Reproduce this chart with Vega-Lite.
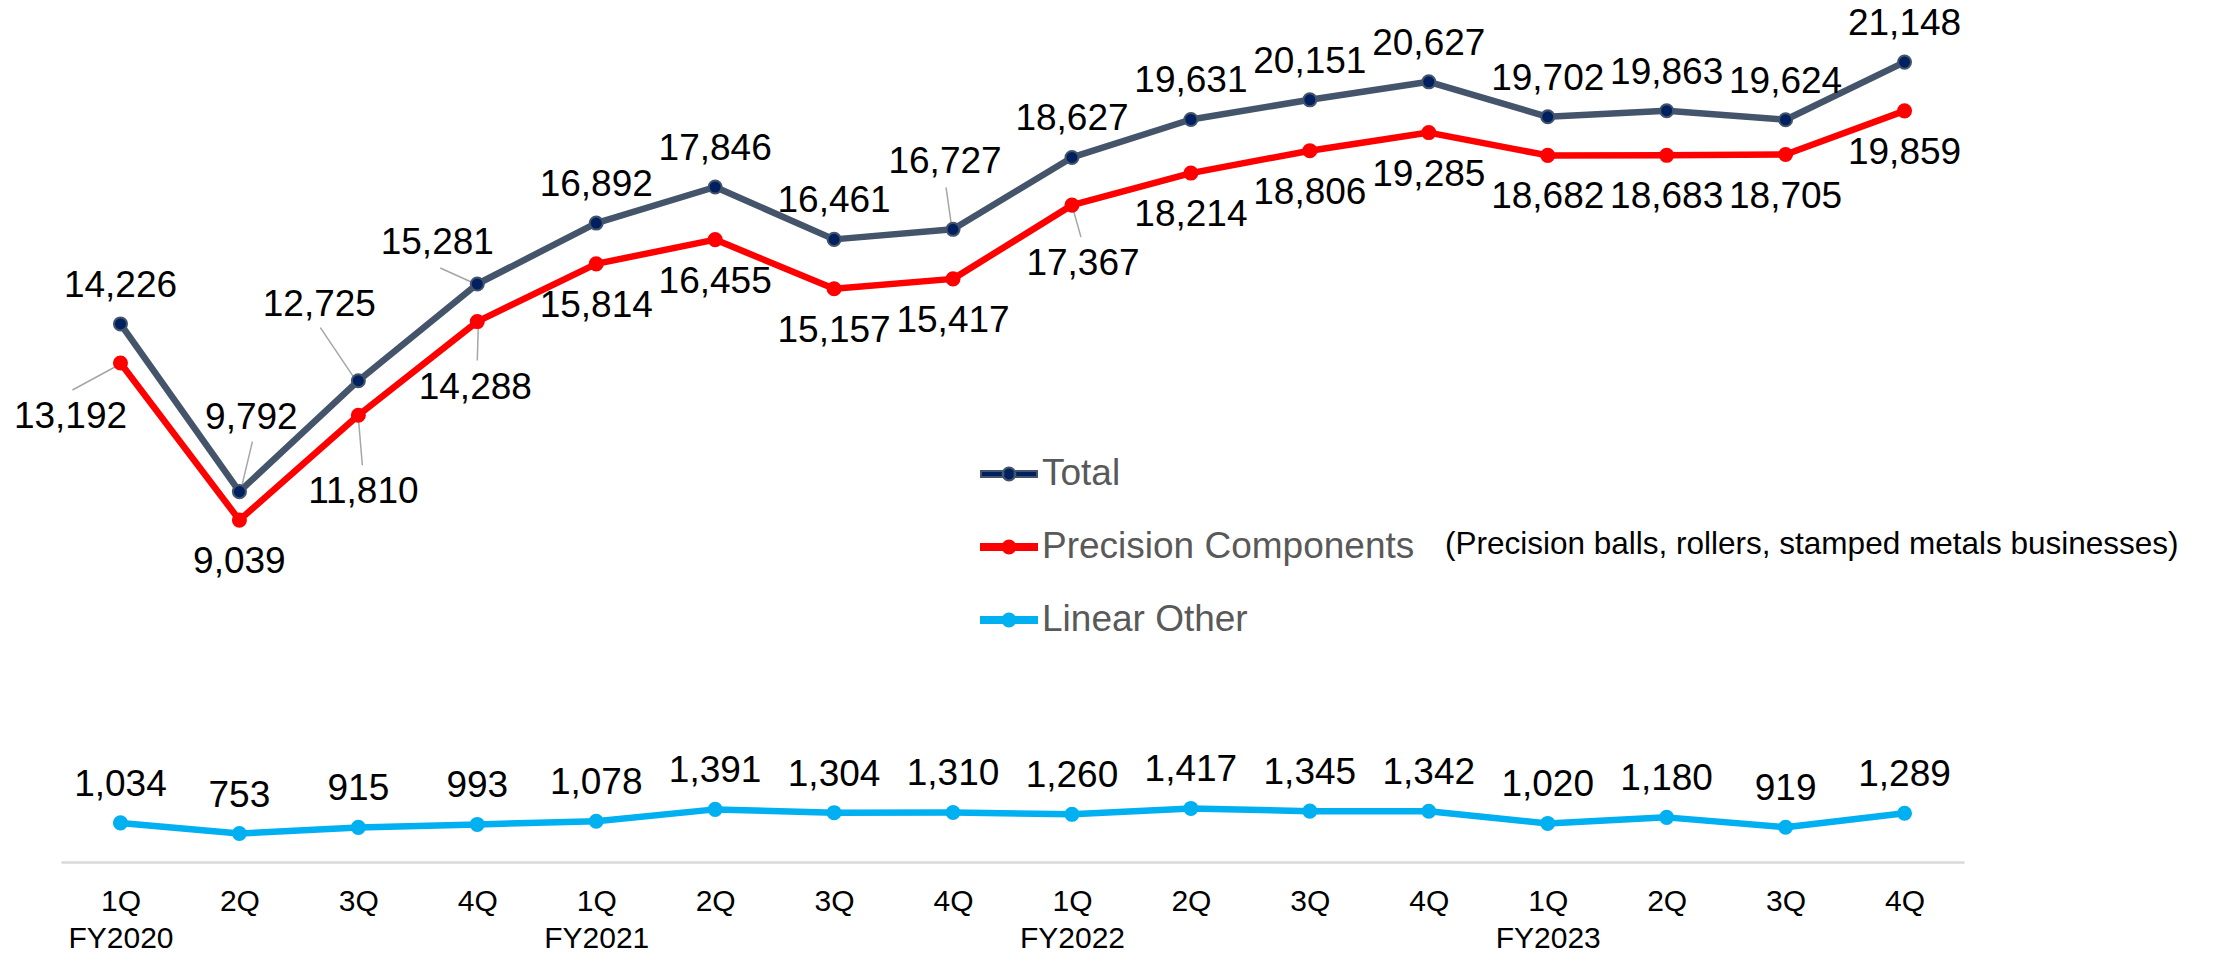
{
  "$schema": "https://vega.github.io/schema/vega-lite/v6.json",
  "autosize": {"type": "none"},
  "padding": {"left": 61, "top": 0, "right": 251, "bottom": 91},
  "width": 1903,
  "height": 862,
  "background": "#ffffff",
  "config": {
    "view": {"stroke": null},
    "font": "Liberation Sans"
  },
  "title": {
    "text": "(Precision balls, rollers, stamped metals businesses)",
    "anchor": "start",
    "frame": "group",
    "orient": "top",
    "offset": 0,
    "dx": 1384,
    "dy": 585,
    "baseline": "alphabetic",
    "fontSize": 31.5,
    "font": "Liberation Sans",
    "fontWeight": "normal",
    "color": "#000000"
  },
  "datasets": {
    "sales": [
      {"series": "Total", "period": "1Q FY2020", "value": 14226},
      {"series": "Total", "period": "2Q FY2020", "value": 9792},
      {"series": "Total", "period": "3Q FY2020", "value": 12725},
      {"series": "Total", "period": "4Q FY2020", "value": 15281},
      {"series": "Total", "period": "1Q FY2021", "value": 16892},
      {"series": "Total", "period": "2Q FY2021", "value": 17846},
      {"series": "Total", "period": "3Q FY2021", "value": 16461},
      {"series": "Total", "period": "4Q FY2021", "value": 16727},
      {"series": "Total", "period": "1Q FY2022", "value": 18627},
      {"series": "Total", "period": "2Q FY2022", "value": 19631},
      {"series": "Total", "period": "3Q FY2022", "value": 20151},
      {"series": "Total", "period": "4Q FY2022", "value": 20627},
      {"series": "Total", "period": "1Q FY2023", "value": 19702},
      {"series": "Total", "period": "2Q FY2023", "value": 19863},
      {"series": "Total", "period": "3Q FY2023", "value": 19624},
      {"series": "Total", "period": "4Q FY2023", "value": 21148},
      {"series": "Precision Components", "period": "1Q FY2020", "value": 13192},
      {"series": "Precision Components", "period": "2Q FY2020", "value": 9039},
      {"series": "Precision Components", "period": "3Q FY2020", "value": 11810},
      {"series": "Precision Components", "period": "4Q FY2020", "value": 14288},
      {"series": "Precision Components", "period": "1Q FY2021", "value": 15814},
      {"series": "Precision Components", "period": "2Q FY2021", "value": 16455},
      {"series": "Precision Components", "period": "3Q FY2021", "value": 15157},
      {"series": "Precision Components", "period": "4Q FY2021", "value": 15417},
      {"series": "Precision Components", "period": "1Q FY2022", "value": 17367},
      {"series": "Precision Components", "period": "2Q FY2022", "value": 18214},
      {"series": "Precision Components", "period": "3Q FY2022", "value": 18806},
      {"series": "Precision Components", "period": "4Q FY2022", "value": 19285},
      {"series": "Precision Components", "period": "1Q FY2023", "value": 18682},
      {"series": "Precision Components", "period": "2Q FY2023", "value": 18683},
      {"series": "Precision Components", "period": "3Q FY2023", "value": 18705},
      {"series": "Precision Components", "period": "4Q FY2023", "value": 19859},
      {"series": "Linear Other", "period": "1Q FY2020", "value": 1034},
      {"series": "Linear Other", "period": "2Q FY2020", "value": 753},
      {"series": "Linear Other", "period": "3Q FY2020", "value": 915},
      {"series": "Linear Other", "period": "4Q FY2020", "value": 993},
      {"series": "Linear Other", "period": "1Q FY2021", "value": 1078},
      {"series": "Linear Other", "period": "2Q FY2021", "value": 1391},
      {"series": "Linear Other", "period": "3Q FY2021", "value": 1304},
      {"series": "Linear Other", "period": "4Q FY2021", "value": 1310},
      {"series": "Linear Other", "period": "1Q FY2022", "value": 1260},
      {"series": "Linear Other", "period": "2Q FY2022", "value": 1417},
      {"series": "Linear Other", "period": "3Q FY2022", "value": 1345},
      {"series": "Linear Other", "period": "4Q FY2022", "value": 1342},
      {"series": "Linear Other", "period": "1Q FY2023", "value": 1020},
      {"series": "Linear Other", "period": "2Q FY2023", "value": 1180},
      {"series": "Linear Other", "period": "3Q FY2023", "value": 919},
      {"series": "Linear Other", "period": "4Q FY2023", "value": 1289}
    ]
  },
  "data": {"name": "sales"},
  "encoding": {
    "x": {
      "field": "period",
      "type": "ordinal",
      "sort": null,
      "scale": {"type": "point", "padding": 0.5},
      "axis": {
        "title": null,
        "orient": "bottom",
        "domain": true,
        "domainColor": "#D9D9D9",
        "domainWidth": 2.5,
        "ticks": false,
        "grid": false,
        "labelAngle": 0,
        "labelFont": "Liberation Sans",
        "labelFontSize": 30,
        "labelColor": "#000000",
        "labelBaseline": "alphabetic",
        "labelPadding": 48,
        "labelLineHeight": 37,
        "labelExpr": "indexof(datum.value, '1Q') == 0 ? split(datum.value, ' ') : split(datum.value, ' ')[0]"
      }
    },
    "y": {
      "field": "value",
      "type": "quantitative",
      "scale": {"domain": [0, 22790], "nice": false, "zero": true},
      "axis": null
    }
  },
  "layer": [
    {
      "mark": {"type": "line", "strokeWidth": 6.5, "strokeJoin": "round", "strokeCap": "round"},
      "encoding": {
        "stroke": {
          "field": "series",
          "type": "nominal",
          "scale": {"domain": ["Total", "Precision Components", "Linear Other"], "range": ["#44546A", "#FF0000", "#00B0F0"]},
          "legend": {
            "title": null, "orient": "none", "legendX": 919, "legendY": 445, "padding": 0,
            "symbolType": "M-1,-0.107L-0.2,-0.107L-0.2,0.107L-1,0.107ZM0.2,-0.107L1,-0.107L1,0.107L0.2,0.107ZM0.23,0A0.23,0.23 0 1,1 -0.23,0A0.23,0.23 0 1,1 0.23,0Z",
            "symbolSize": 3136, "symbolStrokeWidth": 2,
            "labelFont": "Liberation Sans", "labelFontSize": 37, "labelColor": "#595959",
            "labelOffset": 4, "rowPadding": 26, "labelLimit": 800
          }
        }
      }
    },
    {
      "transform": [{"filter": "datum.series == 'Precision Components' && datum.period == '1Q FY2020'"}],
      "mark": {"type": "rule", "color": "#A6A6A6", "strokeWidth": 1.5, "xOffset": -48, "yOffset": 27, "x2Offset": 0, "y2Offset": 1},
      "encoding": {"x2": {"field": "period"}, "y2": {"field": "value"}}
    },
    {
      "transform": [{"filter": "datum.series == 'Total' && datum.period == '2Q FY2020'"}],
      "mark": {"type": "rule", "color": "#A6A6A6", "strokeWidth": 1.5, "xOffset": 13, "yOffset": -50, "x2Offset": 2, "y2Offset": -4},
      "encoding": {"x2": {"field": "period"}, "y2": {"field": "value"}}
    },
    {
      "transform": [{"filter": "datum.series == 'Total' && datum.period == '3Q FY2020'"}],
      "mark": {"type": "rule", "color": "#A6A6A6", "strokeWidth": 1.5, "xOffset": -38, "yOffset": -53, "x2Offset": -5, "y2Offset": -4},
      "encoding": {"x2": {"field": "period"}, "y2": {"field": "value"}}
    },
    {
      "transform": [{"filter": "datum.series == 'Total' && datum.period == '4Q FY2020'"}],
      "mark": {"type": "rule", "color": "#A6A6A6", "strokeWidth": 1.5, "xOffset": -37, "yOffset": -16, "x2Offset": -6, "y2Offset": -2},
      "encoding": {"x2": {"field": "period"}, "y2": {"field": "value"}}
    },
    {
      "transform": [{"filter": "datum.series == 'Precision Components' && datum.period == '4Q FY2020'"}],
      "mark": {"type": "rule", "color": "#A6A6A6", "strokeWidth": 1.5, "xOffset": 1, "yOffset": 4, "x2Offset": 0, "y2Offset": 39},
      "encoding": {"x2": {"field": "period"}, "y2": {"field": "value"}}
    },
    {
      "transform": [{"filter": "datum.series == 'Precision Components' && datum.period == '3Q FY2020'"}],
      "mark": {"type": "rule", "color": "#A6A6A6", "strokeWidth": 1.5, "xOffset": 0, "yOffset": 2, "x2Offset": 4, "y2Offset": 50},
      "encoding": {"x2": {"field": "period"}, "y2": {"field": "value"}}
    },
    {
      "transform": [{"filter": "datum.series == 'Total' && datum.period == '4Q FY2021'"}],
      "mark": {"type": "rule", "color": "#A6A6A6", "strokeWidth": 1.5, "xOffset": -7, "yOffset": -42, "x2Offset": -1, "y2Offset": 0},
      "encoding": {"x2": {"field": "period"}, "y2": {"field": "value"}}
    },
    {
      "transform": [{"filter": "datum.series == 'Precision Components' && datum.period == '1Q FY2022'"}],
      "mark": {"type": "rule", "color": "#A6A6A6", "strokeWidth": 1.5, "xOffset": 0, "yOffset": 0, "x2Offset": 9, "y2Offset": 32},
      "encoding": {"x2": {"field": "period"}, "y2": {"field": "value"}}
    },
    {
      "mark": {"type": "circle", "size": 170, "strokeWidth": 2, "opacity": 1},
      "encoding": {
        "fill": {
          "field": "series",
          "type": "nominal",
          "scale": {"domain": ["Total", "Precision Components", "Linear Other"], "range": ["#002060", "#FF0000", "#00B0F0"]},
          "legend": {
            "title": null, "orient": "none", "legendX": 919, "legendY": 445, "padding": 0,
            "symbolType": "M-1,-0.107L-0.2,-0.107L-0.2,0.107L-1,0.107ZM0.2,-0.107L1,-0.107L1,0.107L0.2,0.107ZM0.23,0A0.23,0.23 0 1,1 -0.23,0A0.23,0.23 0 1,1 0.23,0Z",
            "symbolSize": 3136, "symbolStrokeWidth": 2,
            "labelFont": "Liberation Sans", "labelFontSize": 37, "labelColor": "#595959",
            "labelOffset": 4, "rowPadding": 26, "labelLimit": 800
          }
        },
        "stroke": {
          "field": "series",
          "type": "nominal",
          "scale": {"domain": ["Total", "Precision Components", "Linear Other"], "range": ["#44546A", "#FF0000", "#00B0F0"]},
          "legend": {
            "title": null, "orient": "none", "legendX": 919, "legendY": 445, "padding": 0,
            "symbolType": "M-1,-0.107L-0.2,-0.107L-0.2,0.107L-1,0.107ZM0.2,-0.107L1,-0.107L1,0.107L0.2,0.107ZM0.23,0A0.23,0.23 0 1,1 -0.23,0A0.23,0.23 0 1,1 0.23,0Z",
            "symbolSize": 3136, "symbolStrokeWidth": 2,
            "labelFont": "Liberation Sans", "labelFontSize": 37, "labelColor": "#595959",
            "labelOffset": 4, "rowPadding": 26, "labelLimit": 800
          }
        }
      }
    },
    {
      "transform": [{"filter": "datum.series != 'Precision Components' && indexof(['Total|2Q FY2020', 'Total|3Q FY2020', 'Total|4Q FY2020', 'Total|4Q FY2021'], datum.series + '|' + datum.period) < 0"}],
      "mark": {"type": "text", "align": "center", "baseline": "alphabetic", "dy": -27, "fontSize": 37, "font": "Liberation Sans", "color": "#000000"},
      "encoding": {"text": {"field": "value", "type": "quantitative", "format": ","}}
    },
    {
      "transform": [{"filter": "datum.series == 'Precision Components' && indexof(['1Q FY2020', '3Q FY2020', '4Q FY2020', '1Q FY2022'], datum.period) < 0"}],
      "mark": {"type": "text", "align": "center", "baseline": "alphabetic", "dy": 53, "fontSize": 37, "font": "Liberation Sans", "color": "#000000"},
      "encoding": {"text": {"field": "value", "type": "quantitative", "format": ","}}
    },
    {
      "transform": [{"filter": "datum.series == 'Total' && datum.period == '2Q FY2020'"}],
      "mark": {"type": "text", "align": "center", "baseline": "alphabetic", "dx": 12, "dy": -63, "fontSize": 37, "font": "Liberation Sans", "color": "#000000"},
      "encoding": {"text": {"field": "value", "type": "quantitative", "format": ","}}
    },
    {
      "transform": [{"filter": "datum.series == 'Total' && datum.period == '3Q FY2020'"}],
      "mark": {"type": "text", "align": "center", "baseline": "alphabetic", "dx": -39, "dy": -65, "fontSize": 37, "font": "Liberation Sans", "color": "#000000"},
      "encoding": {"text": {"field": "value", "type": "quantitative", "format": ","}}
    },
    {
      "transform": [{"filter": "datum.series == 'Total' && datum.period == '4Q FY2020'"}],
      "mark": {"type": "text", "align": "center", "baseline": "alphabetic", "dx": -40, "dy": -30, "fontSize": 37, "font": "Liberation Sans", "color": "#000000"},
      "encoding": {"text": {"field": "value", "type": "quantitative", "format": ","}}
    },
    {
      "transform": [{"filter": "datum.series == 'Total' && datum.period == '4Q FY2021'"}],
      "mark": {"type": "text", "align": "center", "baseline": "alphabetic", "dx": -8, "dy": -56, "fontSize": 37, "font": "Liberation Sans", "color": "#000000"},
      "encoding": {"text": {"field": "value", "type": "quantitative", "format": ","}}
    },
    {
      "transform": [{"filter": "datum.series == 'Precision Components' && datum.period == '1Q FY2020'"}],
      "mark": {"type": "text", "align": "center", "baseline": "alphabetic", "dx": -50, "dy": 65, "fontSize": 37, "font": "Liberation Sans", "color": "#000000"},
      "encoding": {"text": {"field": "value", "type": "quantitative", "format": ","}}
    },
    {
      "transform": [{"filter": "datum.series == 'Precision Components' && datum.period == '3Q FY2020'"}],
      "mark": {"type": "text", "align": "center", "baseline": "alphabetic", "dx": 5, "dy": 88, "fontSize": 37, "font": "Liberation Sans", "color": "#000000"},
      "encoding": {"text": {"field": "value", "type": "quantitative", "format": ","}}
    },
    {
      "transform": [{"filter": "datum.series == 'Precision Components' && datum.period == '4Q FY2020'"}],
      "mark": {"type": "text", "align": "center", "baseline": "alphabetic", "dx": -2, "dy": 77, "fontSize": 37, "font": "Liberation Sans", "color": "#000000"},
      "encoding": {"text": {"field": "value", "type": "quantitative", "format": ","}}
    },
    {
      "transform": [{"filter": "datum.series == 'Precision Components' && datum.period == '1Q FY2022'"}],
      "mark": {"type": "text", "align": "center", "baseline": "alphabetic", "dx": 11, "dy": 70, "fontSize": 37, "font": "Liberation Sans", "color": "#000000"},
      "encoding": {"text": {"field": "value", "type": "quantitative", "format": ","}}
    }
  ]
}
